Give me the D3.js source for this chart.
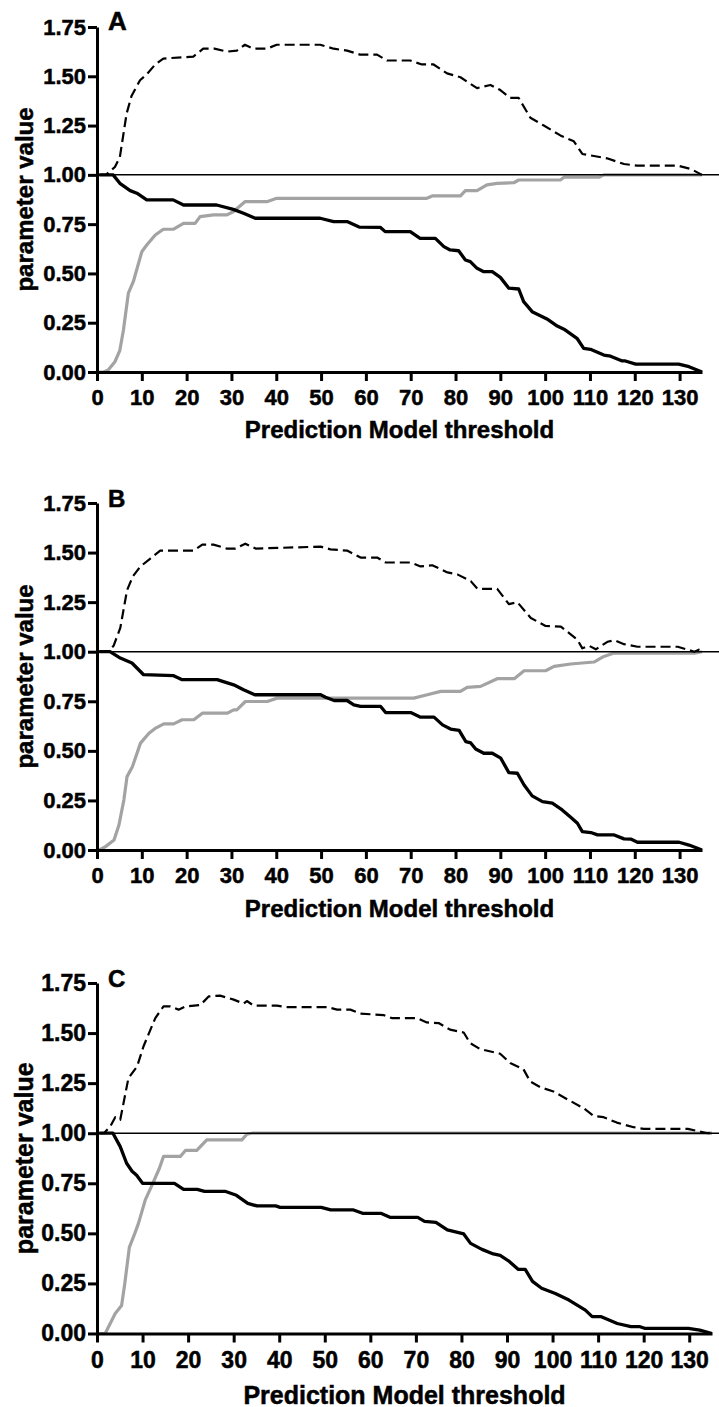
<!DOCTYPE html>
<html>
<head>
  <meta charset="utf-8">
  <script src="https://d3js.org/d3.v7.min.js"></script>
  <style>
    body { margin: 0; background: #fff; }
    svg { display: block; }
    text { font-family: "Liberation Sans", Arial, sans-serif; font-weight: bold; fill: #000; stroke: #000; stroke-width: 0.5px; }
  </style>
</head>
<body>
<script>
  // values: [threshold, parameter value]
  var aSens = [[0.5,1.0],[3.6,1.0],[5.1,0.957],[7.4,0.92],[8.9,0.907],[11.1,0.873],[17,0.873],[19.3,0.847],[26.7,0.847],[30.4,0.825],[32.7,0.805],[35.3,0.78],[49.8,0.78],[52.8,0.763],[55.8,0.763],[58.5,0.735],[63.2,0.734],[64.3,0.712],[69.9,0.712],[72.1,0.678],[75.5,0.678],[77.4,0.636],[78.8,0.619],[80.7,0.615],[82.2,0.568],[83.3,0.56],[84.8,0.526],[86.3,0.509],[88.2,0.509],[90,0.48],[91.9,0.425],[94.1,0.421],[95.2,0.357],[97.1,0.306],[100.4,0.269],[102.7,0.233],[104.2,0.217],[107.1,0.171],[108.6,0.12],[110.1,0.115],[113.1,0.086],[114.6,0.08],[117.2,0.056],[117.9,0.056],[120.2,0.04],[129.8,0.04],[132.1,0.027],[135,0]];
  var aSpec = [[0.5,0],[1.5,0],[2.5,0.01],[4,0.052],[5.1,0.11],[5.9,0.213],[7,0.40],[8.1,0.458],[10,0.61],[11.1,0.644],[13,0.695],[14.8,0.724],[17,0.724],[19.3,0.754],[21.9,0.754],[23,0.788],[26,0.797],[29,0.797],[30.4,0.813],[33,0.864],[37.9,0.864],[40.1,0.881],[73.6,0.881],[74.8,0.893],[81.1,0.893],[82.2,0.92],[84.8,0.92],[87,0.949],[89.3,0.957],[93,0.96],[94.1,0.974],[103.4,0.974],[104.2,0.988],[112,0.988],[113.1,1.0],[135,1.0]];
  var aRatio = [[0.5,1.0],[2,1.0],[4,1.04],[5.1,1.09],[6.6,1.31],[7.7,1.40],[9.6,1.48],[11.1,1.51],[13,1.56],[14.8,1.59],[21.5,1.60],[23.7,1.64],[26.2,1.64],[29,1.625],[31.2,1.63],[33,1.66],[34.9,1.64],[37.9,1.64],[40.1,1.66],[49.8,1.66],[52.8,1.64],[55.8,1.63],[58.7,1.61],[62.5,1.61],[64.7,1.58],[69.9,1.58],[72.5,1.56],[75.1,1.56],[78.1,1.515],[81.1,1.495],[84.8,1.44],[87.8,1.456],[90,1.43],[92.2,1.39],[94.1,1.39],[96.7,1.29],[99.7,1.25],[103.4,1.20],[106.4,1.17],[108.3,1.106],[113.8,1.084],[117.6,1.055],[120.5,1.047],[129.5,1.047],[132.5,1.03],[135,1.0]];

  var bSens = [[0.5,1.0],[2.9,1.0],[5.2,0.968],[7.8,0.943],[10.4,0.884],[17.1,0.879],[19,0.859],[26.8,0.859],[30.5,0.833],[32.7,0.808],[35.2,0.783],[49.9,0.783],[51,0.77],[52.9,0.754],[55.8,0.754],[57.3,0.732],[58.8,0.724],[63.3,0.724],[64.4,0.693],[70,0.693],[72.2,0.67],[75.2,0.67],[77.1,0.631],[78.9,0.61],[80.8,0.603],[82.3,0.547],[83.4,0.54],[84.5,0.509],[86.3,0.488],[88.2,0.488],[90.1,0.463],[91.9,0.39],[93.8,0.387],[95.3,0.328],[97.1,0.273],[99.4,0.244],[101.6,0.236],[103.8,0.202],[105.7,0.165],[107.2,0.135],[108.3,0.093],[110.2,0.088],[111.7,0.076],[115.4,0.076],[117.6,0.056],[119.1,0.055],[120.6,0.039],[129.9,0.039],[132.1,0.025],[135,0]];
  var bSpec = [[0.5,0],[1.9,0.017],[3.8,0.05],[4.9,0.126],[6,0.253],[6.7,0.37],[7.9,0.42],[9.7,0.539],[11.6,0.589],[13.1,0.615],[14.9,0.636],[17.1,0.636],[19,0.657],[21.6,0.657],[23.5,0.69],[29.1,0.69],[30.5,0.707],[31.2,0.707],[33.1,0.749],[38,0.749],[40.2,0.766],[70.7,0.766],[73.7,0.783],[76.7,0.8],[81.1,0.8],[82.6,0.82],[85.6,0.825],[89.3,0.864],[93.1,0.864],[95.3,0.904],[100.1,0.904],[102,0.926],[105.7,0.938],[110.9,0.948],[113.1,0.976],[115.4,0.993],[133.3,0.993],[135,1.0]];
  var bRatio = [[0.5,1.0],[2.5,1.0],[3.7,1.03],[5.2,1.12],[6.7,1.31],[8,1.38],[9.7,1.43],[11.9,1.47],[14.1,1.51],[21.6,1.51],[23.5,1.54],[26,1.54],[29,1.52],[30.9,1.52],[33.1,1.545],[35.4,1.52],[49.9,1.53],[52.1,1.516],[55.8,1.51],[58.8,1.475],[62.5,1.475],[64.4,1.45],[70,1.45],[72.2,1.43],[74.8,1.436],[78.2,1.40],[80.4,1.39],[83.4,1.356],[84.9,1.317],[89.3,1.317],[91.9,1.24],[93.8,1.25],[96.8,1.17],[100.1,1.13],[103.5,1.127],[107.2,1.06],[108.3,1.017],[109.8,1.03],[111.3,1.012],[113.9,1.05],[115.4,1.058],[117.6,1.038],[120.6,1.025],[129.6,1.025],[133.3,1.0],[134.3,1.01],[135,1.0]];

  var cSens = [[0.5,1.0],[3.5,1.0],[5.1,0.933],[6.5,0.85],[7.7,0.81],[8.7,0.79],[10,0.75],[17,0.75],[19,0.72],[22,0.72],[23.6,0.71],[28.1,0.71],[30.6,0.69],[33.1,0.65],[35.1,0.637],[39.2,0.637],[40.2,0.63],[49.2,0.63],[51.3,0.617],[56.3,0.617],[58.3,0.60],[62.3,0.60],[64.3,0.58],[70.4,0.58],[71.9,0.56],[74.4,0.555],[76.9,0.517],[80.5,0.497],[82,0.45],[84.5,0.42],[87,0.397],[88.5,0.39],[90.5,0.36],[92.5,0.32],[94,0.32],[95.6,0.26],[97.6,0.226],[100.6,0.20],[103.6,0.167],[107.2,0.117],[108.7,0.084],[110.7,0.084],[114.2,0.05],[117.2,0.034],[119.2,0.034],[120.2,0.026],[129.8,0.026],[132.3,0.017],[135,0]];
  var cSpec = [[0.5,0],[1.8,0],[4.0,0.10],[5.4,0.14],[6.1,0.25],[7.1,0.43],[8.3,0.50],[9.1,0.55],[10.6,0.667],[12.1,0.742],[13.7,0.825],[14.6,0.884],[18.3,0.884],[19.4,0.914],[21.9,0.914],[24.1,0.967],[31.8,0.967],[32.9,0.995],[34,1.0],[135,1.0]];
  var cRatio = [[0.5,1.0],[1.5,1.0],[2.9,1.033],[4.0,1.08],[5.1,1.067],[6.9,1.275],[8.8,1.333],[10.2,1.433],[12.8,1.575],[14.6,1.633],[16.1,1.633],[17.9,1.617],[19.4,1.633],[22.7,1.64],[24.5,1.683],[27,1.687],[30,1.667],[32.2,1.647],[32.9,1.66],[34.4,1.637],[39.5,1.637],[41.7,1.63],[50.5,1.63],[52.7,1.617],[55.6,1.617],[57.8,1.597],[62.9,1.59],[64.7,1.575],[70.2,1.575],[72.4,1.553],[75,1.55],[77.5,1.517],[80.5,1.503],[81.9,1.45],[84.1,1.42],[88.5,1.397],[90.7,1.35],[93.6,1.32],[95.1,1.258],[97.3,1.23],[100.2,1.208],[103.2,1.17],[106.8,1.125],[109,1.087],[111.2,1.08],[114.1,1.053],[117.8,1.03],[120,1.022],[129.7,1.022],[134,1.0],[135,1.0]];

  var yTicks = [0, 0.25, 0.5, 0.75, 1.0, 1.25, 1.5, 1.75];
  var xTicks = [0, 10, 20, 30, 40, 50, 60, 70, 80, 90, 100, 110, 120, 130];
  var xTitle = "Prediction Model threshold";
  var yTitle = "parameter value";

  // page layout for each panel
  var panels = [
    {label: "A", sens: aSens, spec: aSpec, ratio: aRatio,
     left: 97, right: 702, top: 27, bottom: 372, labelSize: 26, labelY: 30,
     tickFont: 22, tickPad: 8, titleFont: 24, titleOff: 66},
    {label: "B", sens: bSens, spec: bSpec, ratio: bRatio,
     left: 97, right: 702, top: 503, bottom: 850, labelSize: 24, labelY: 507,
     tickFont: 22, tickPad: 8, titleFont: 24, titleOff: 67},
    {label: "C", sens: cSens, spec: cSpec, ratio: cRatio,
     left: 97, right: 712, top: 983, bottom: 1333.5, labelSize: 24, labelY: 987,
     tickFont: 23, tickPad: 9, titleFont: 25, titleOff: 70}
  ];

  var W = 719, H = 1407;

  var svg = d3.select("body")
    .append("svg")
      .attr("width", W)
      .attr("height", H);

  panels.forEach(function (p) {
    var x = d3.scaleLinear().domain([0, 135]).range([p.left, p.right]);
    var y = d3.scaleLinear().domain([0, 1.75]).range([p.bottom, p.top]);

    var g = svg.append("g");

    var line = d3.line()
      .x(function (d) { return x(d[0]); })
      .y(function (d) { return y(d[1]); });

    // gray curve
    g.append("path")
      .datum(p.spec)
      .attr("d", line)
      .attr("fill", "none")
      .attr("stroke", "#a3a3a3")
      .attr("stroke-width", 3.2)
      .attr("stroke-linejoin", "round");

    // reference line at 1.00
    g.append("line")
      .attr("x1", x(0))
      .attr("x2", W)
      .attr("y1", y(1))
      .attr("y2", y(1))
      .attr("stroke", "#000")
      .attr("stroke-width", 1.5);

    // black solid curve
    g.append("path")
      .datum(p.sens)
      .attr("d", line)
      .attr("fill", "none")
      .attr("stroke", "#000")
      .attr("stroke-width", 3.3)
      .attr("stroke-linejoin", "round");

    // dashed curve
    g.append("path")
      .datum(p.ratio)
      .attr("d", line)
      .attr("fill", "none")
      .attr("stroke", "#000")
      .attr("stroke-width", 2.2)
      .attr("stroke-dasharray", "10,5")
      .attr("stroke-linejoin", "round");

    // axes
    var yAxis = d3.axisLeft(y)
      .tickValues(yTicks)
      .tickFormat(d3.format(".2f"))
      .tickSize(9)
      .tickSizeOuter(0)
      .tickPadding(2);

    var xAxis = d3.axisBottom(x)
      .tickValues(xTicks)
      .tickFormat(d3.format("d"))
      .tickSize(9)
      .tickSizeOuter(0)
      .tickPadding(p.tickPad);

    var ya = g.append("g")
      .attr("transform", "translate(" + p.left + ",0)")
      .call(yAxis);

    var xa = g.append("g")
      .attr("transform", "translate(0," + p.bottom + ")")
      .call(xAxis);

    [ya, xa].forEach(function (a) {
      a.select(".domain").attr("stroke-width", 3).attr("stroke", "#000");
      a.selectAll(".tick line").attr("stroke-width", 3).attr("stroke", "#000");
      a.selectAll(".tick text")
        .attr("fill", "#000")
        .style("font-size", p.tickFont + "px")
        .style("font-family", "'Liberation Sans', Arial, sans-serif")
        .style("font-weight", "bold");
    });

    // titles
    g.append("text")
      .attr("x", (p.left + p.right) / 2)
      .attr("y", p.bottom + p.titleOff)
      .attr("text-anchor", "middle")
      .style("font-size", p.titleFont + "px")
      .text(xTitle);

    g.append("text")
      .attr("transform", "translate(33," + (p.top + p.bottom) / 2 + ") rotate(-90)")
      .attr("text-anchor", "middle")
      .style("font-size", p.titleFont + "px")
      .text(yTitle);

    // panel letter
    g.append("text")
      .attr("x", p.left + 11)
      .attr("y", p.labelY)
      .style("font-size", p.labelSize + "px")
      .text(p.label);
  });
</script>
</body>
</html>
